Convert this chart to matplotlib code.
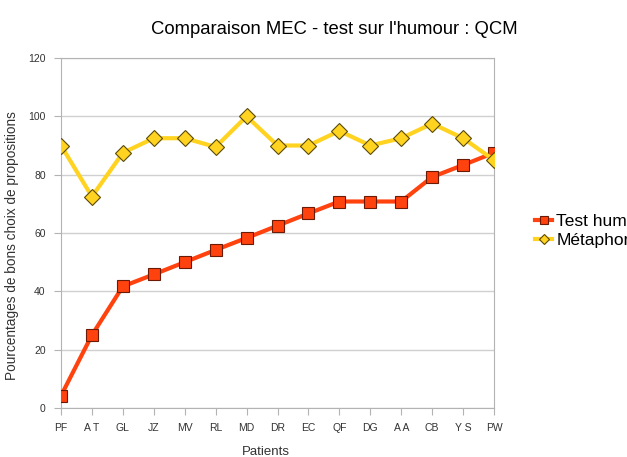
import matplotlib.pyplot as plt
import numpy as np

plt.rcParams['font.family'] = ['Liberation Sans', 'DejaVu Sans']

patients = ["PF", "A T", "GL", "JZ", "MV", "RL", "MD", "DR", "EC", "QF", "DG", "A A", "CB", "Y S", "PW"]
test_humour = [4.2, 25, 41.7, 45.8, 50, 54.2, 58.3, 62.5, 66.7, 70.8, 70.8, 70.8, 79.2, 83.3, 87.5]
metaphores = [90, 72.5, 87.5, 92.5, 92.5, 89.5, 100, 90, 90, 95, 90, 92.5, 97.5, 92.5, 85]
labels = ["Test humour", "Métaphores"]

W, H = 627, 457
fig = plt.figure(figsize=(W / 100, H / 100), dpi=100)
ax = fig.add_axes([61 / W, 49 / H, 433 / W, 350 / H])

x = np.arange(len(patients))
ax.plot(x, test_humour, color='#ff420e', linewidth=3, marker='s', markersize=9,
        markeredgecolor='#6b1a05', markeredgewidth=0.8, label=labels[0], zorder=3)
ax.plot(x, metaphores, color='#ffd320', linewidth=3, marker='D', markersize=8,
        markeredgecolor='#5a4a05', markeredgewidth=0.8, label=labels[1], zorder=3)

ax.set_xlim(0, len(patients) - 1)
ax.set_ylim(0, 120)
ax.set_yticks(np.arange(0, 121, 20))
ax.set_xticks(x)
ax.set_xticklabels(patients)
ax.tick_params(axis='both', labelsize=7.5, colors='#333333', length=5, color='#b3b3b3')
ax.tick_params(axis='x', pad=6)
ax.tick_params(axis='y', pad=6)
ax.yaxis.grid(True, color='#d0d0d0', linewidth=1)
ax.set_axisbelow(True)
for s in ax.spines.values():
    s.set_color('#b3b3b3')

# axis titles and chart title placed in figure pixels
fig.text(266 / W, 1 - 452 / H, 'Patients', fontsize=9.5, color='#333333',
         ha='center', va='center')
fig.text(12 / W, 1 - 246 / H, 'Pourcentages de bons choix de propositions', fontsize=9.8,
         color='#333333', ha='center', va='center', rotation=90)
fig.text(334 / W, 1 - 29 / H, "Comparaison MEC - test sur l'humour : QCM",
         fontsize=13.3, ha='center', va='center')

# legend sits at the right edge and runs off the figure, as in the original
leg = ax.legend(loc='center left', bbox_to_anchor=(535 / W, 1 - 231 / H),
                bbox_transform=fig.transFigure, frameon=False, fontsize=12.5,
                handlelength=1.0, handletextpad=0.22, labelspacing=0.22,
                borderpad=0, borderaxespad=0, markerscale=0.6)

fig.savefig('out.png', dpi=100)
